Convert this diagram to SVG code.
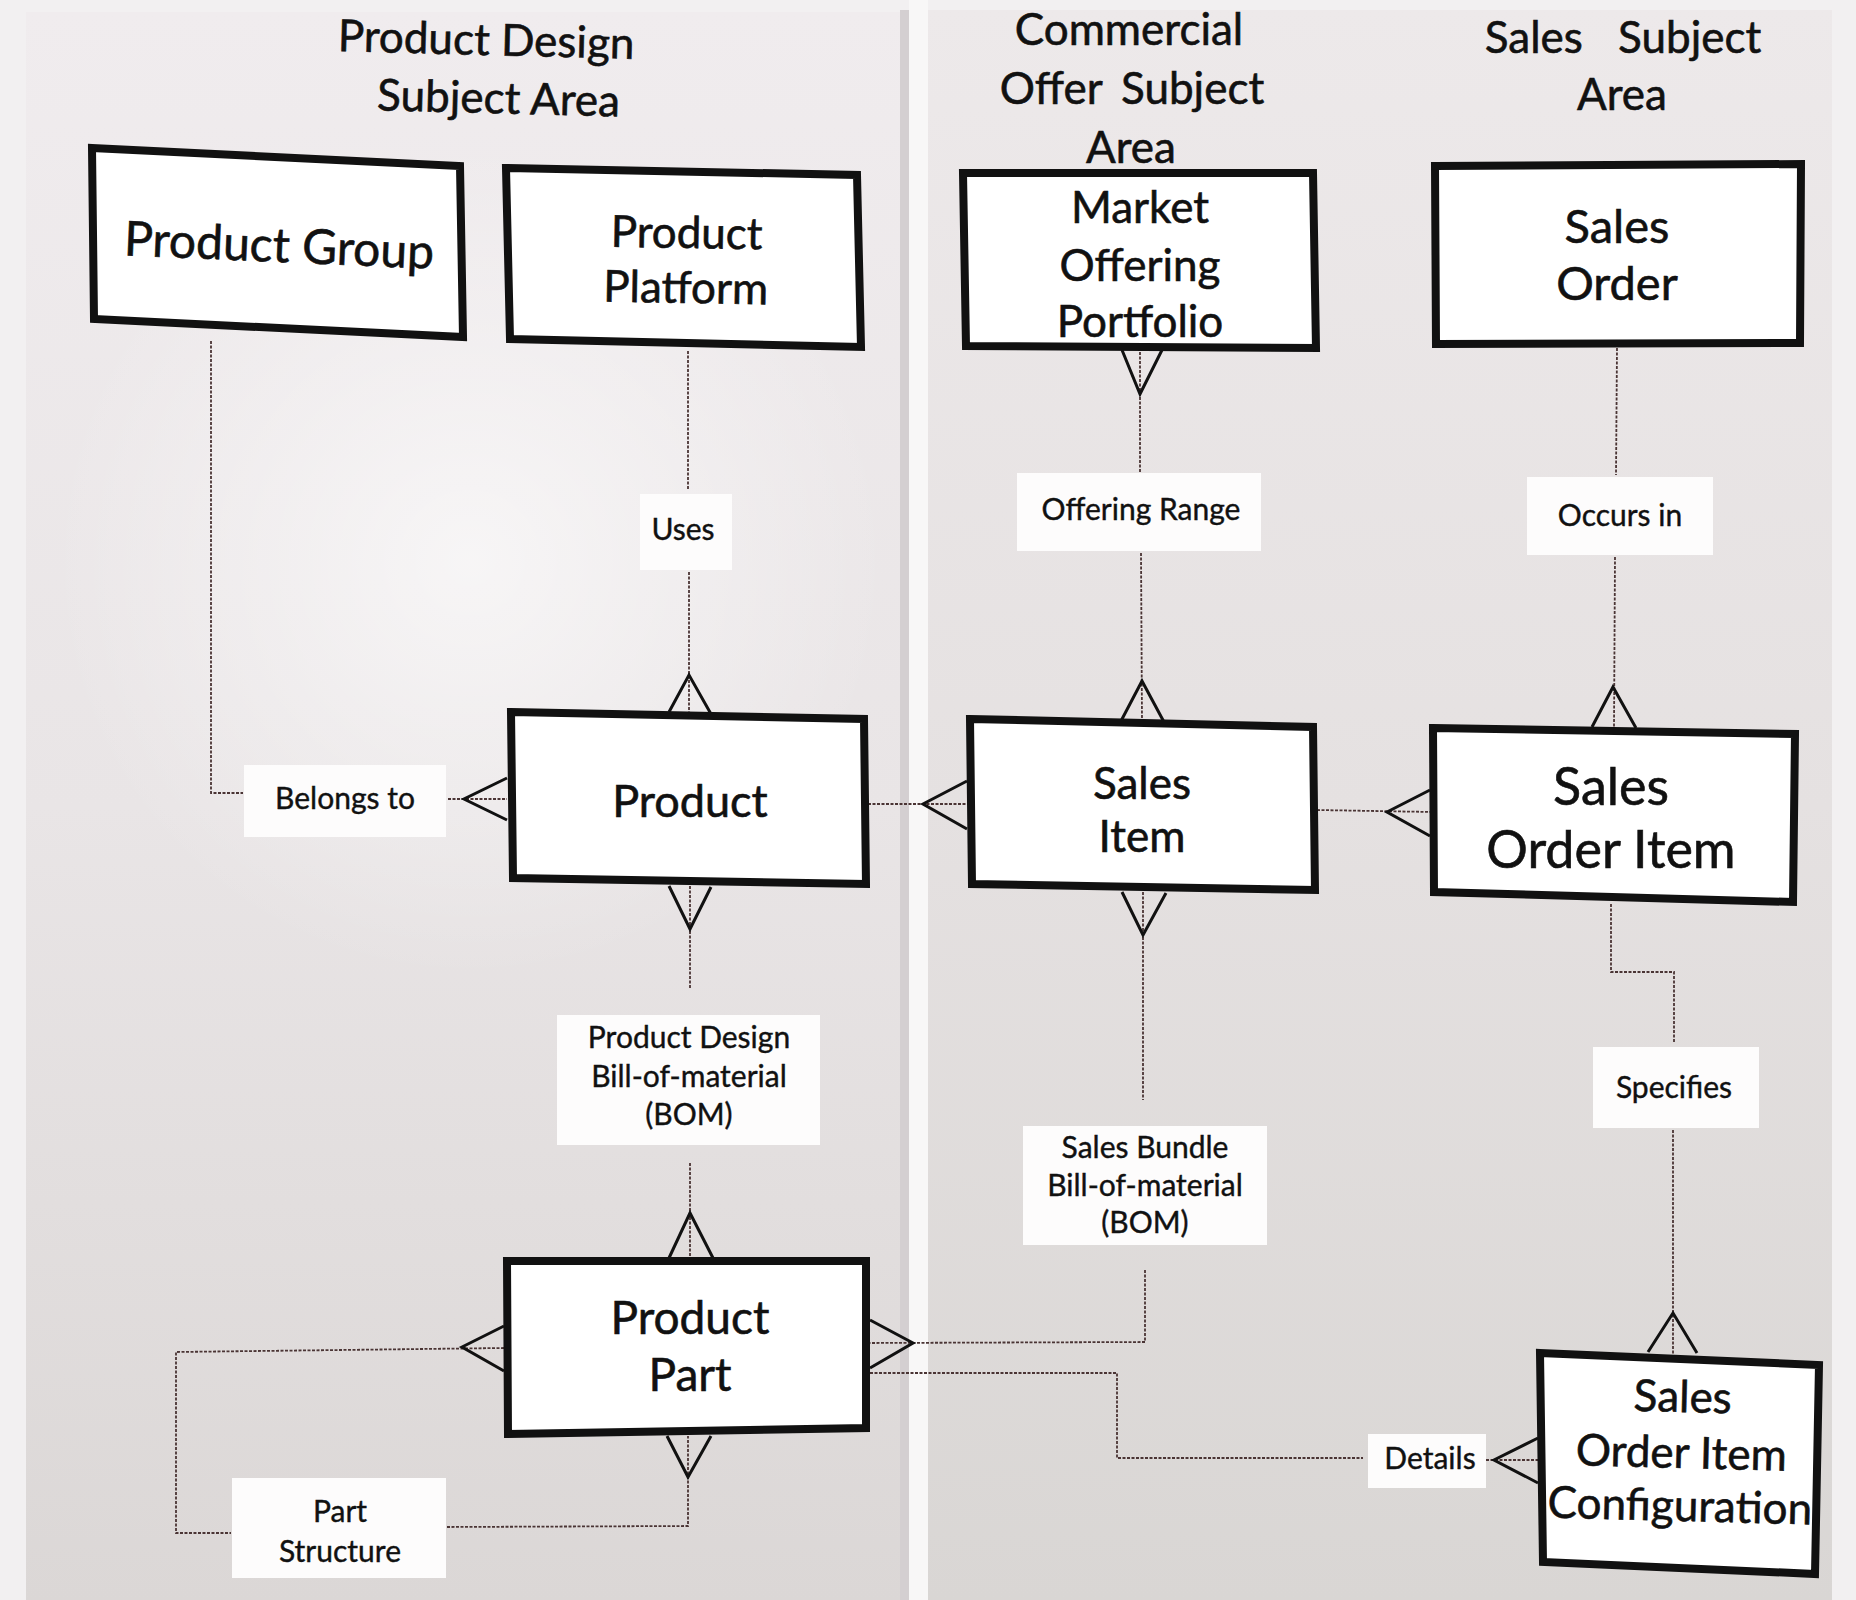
<svg xmlns="http://www.w3.org/2000/svg" width="1856" height="1600" viewBox="0 0 1856 1600">
<defs>
<linearGradient id="pgL" x1="0" y1="0" x2="0" y2="1">
<stop offset="0" stop-color="#f0ecee"/><stop offset="0.5" stop-color="#e9e5e6"/><stop offset="1" stop-color="#dbd7d6"/>
</linearGradient>
<linearGradient id="pgR" x1="0" y1="0" x2="0" y2="1">
<stop offset="0" stop-color="#ede9ea"/><stop offset="0.5" stop-color="#e5e1e1"/><stop offset="1" stop-color="#d9d6d4"/>
</linearGradient>
<radialGradient id="glow" cx="0.5" cy="0.5" r="0.5">
<stop offset="0" stop-color="#ffffff" stop-opacity="0.6"/><stop offset="1" stop-color="#ffffff" stop-opacity="0"/>
</radialGradient>
<style>
.box{fill:#ffffff;stroke:#111111;stroke-width:8;stroke-linejoin:miter}
.nt{font-family:Lato,"Open Sans",sans-serif;fill:#111111;stroke:#111111;stroke-width:0.6;text-anchor:middle}
.ttl{font-family:Lato,"Open Sans",sans-serif;font-size:44px;fill:#111111;stroke:#111111;stroke-width:0.6;text-anchor:middle}
.lbl{font-family:Lato,"Open Sans",sans-serif;font-size:30px;fill:#111111;stroke:#111111;stroke-width:0.4;text-anchor:middle}
.lbg{fill:#fdfcfc}
.dot{fill:none;stroke:#4a3434;stroke-width:1.8;stroke-dasharray:3 1.5}
.cf{fill:none;stroke:#111111;stroke-width:3;stroke-linejoin:miter}
</style>
</defs>
<g id="background">
<rect x="0" y="0" width="1856" height="1600" fill="#f2f0f1"/>
<rect x="26" y="12" width="874" height="1588" fill="url(#pgL)"/>
<rect x="928" y="10" width="904" height="1590" fill="url(#pgR)"/>
<ellipse cx="470" cy="560" rx="420" ry="420" fill="url(#glow)"/>
<rect x="900" y="10" width="9" height="1590" fill="#d4cfd1"/>
<rect x="909" y="0" width="19" height="1600" fill="#f8f7f7"/>
</g>
<g id="titles">
<text class="ttl" transform="rotate(1.5 486 45)"><tspan x="486" y="55">Product Design</tspan><tspan x="500" y="113">Subject Area</tspan></text>
<text class="ttl"><tspan x="1129" y="45">Commercial</tspan><tspan x="1132" y="104" word-spacing="8">Offer Subject</tspan><tspan x="1131" y="163">Area</tspan></text>
<text class="ttl"><tspan x="1623" y="53" word-spacing="24">Sales Subject</tspan><tspan x="1622" y="110">Area</tspan></text>
</g>
<g id="connectors">
<path class="dot" d="M211,341 L211,793 L243,793 M448,799 L507,799"/>
<path class="cf" d="M507,778 L464,799 L507,820"/>
<path class="dot" d="M688,351 L688,490 M689,572 L689,712"/>
<path class="cf" d="M669,712 L689,675 L711,714"/>
<path class="dot" d="M1140,352 L1140,472 M1141,553 L1142,721"/>
<path class="cf" d="M1122,350 L1140,394 L1162,350"/>
<path class="cf" d="M1121,721 L1142,681 L1164,722"/>
<path class="dot" d="M1617,348 L1616,475 M1615,557 L1614,727"/>
<path class="cf" d="M1592,727 L1613,687 L1636,728"/>
<path class="dot" d="M868,804 L968,804"/>
<path class="cf" d="M967,781 L923,804 L967,829"/>
<path class="dot" d="M1317,810 L1432,812"/>
<path class="cf" d="M1430,790 L1387,812 L1430,836"/>
<path class="dot" d="M690,886 L690,988 M690,1163 L690,1258"/>
<path class="cf" d="M669,886 L690,929 L711,887"/>
<path class="cf" d="M669,1258 L690,1213 L713,1258"/>
<path class="dot" d="M1143,892 L1143,1100 M1145,1270 L1145,1342 L870,1343"/>
<path class="cf" d="M1122,892 L1143,935 L1166,893"/>
<path class="cf" d="M870,1320 L913,1343 L870,1368"/>
<path class="dot" d="M870,1373 L1117,1373 L1117,1458 L1363,1458 M1486,1460 L1539,1460"/>
<path class="cf" d="M1538,1438 L1494,1460 L1538,1483"/>
<path class="dot" d="M1611,904 L1611,972 L1674,972 L1674,1043 M1673,1130 L1673,1354"/>
<path class="cf" d="M1648,1352 L1673,1313 L1697,1353"/>
<path class="dot" d="M504,1348 L176,1352 L176,1533 L231,1533 M447,1527 L688,1526 L688,1436"/>
<path class="cf" d="M504,1326 L462,1347 L504,1371"/>
<path class="cf" d="M667,1436 L688,1477 L711,1436"/>
</g>
<g id="labels">
<g id="lbl-belongs"><rect class="lbg" x="244" y="765" width="202" height="72"/><text class="lbl" x="345" y="809" font-size="32">Belongs to</text></g>
<g id="lbl-uses"><rect class="lbg" x="640" y="494" width="92" height="76"/><text class="lbl" x="683" y="540">Uses</text></g>
<g id="lbl-offering"><rect class="lbg" x="1017" y="473" width="244" height="78"/><text class="lbl" x="1141" y="520">Offering Range</text></g>
<g id="lbl-occurs"><rect class="lbg" x="1527" y="477" width="186" height="78"/><text class="lbl" x="1620" y="526" font-size="32">Occurs in</text></g>
<g id="lbl-pdbom"><rect class="lbg" x="557" y="1015" width="263" height="130"/><text class="lbl"><tspan x="689" y="1048">Product Design</tspan><tspan x="689" y="1087">Bill-of-material</tspan><tspan x="689" y="1125">(BOM)</tspan></text></g>
<g id="lbl-sbbom"><rect class="lbg" x="1023" y="1126" width="244" height="119"/><text class="lbl"><tspan x="1145" y="1158">Sales Bundle</tspan><tspan x="1145" y="1196">Bill-of-material</tspan><tspan x="1145" y="1233">(BOM)</tspan></text></g>
<g id="lbl-specifies"><rect class="lbg" x="1593" y="1047" width="166" height="81"/><text class="lbl" x="1674" y="1098">Specifies</text></g>
<g id="lbl-details"><rect class="lbg" x="1368" y="1434" width="118" height="54"/><text class="lbl" x="1430" y="1469">Details</text></g>
<g id="lbl-partstructure"><rect class="lbg" x="232" y="1478" width="214" height="100"/><text class="lbl" font-size="33"><tspan x="340" y="1522">Part</tspan><tspan x="340" y="1562">Structure</tspan></text></g>
</g>
<g id="product-group">
<polygon class="box" points="92,148 460,166 463,337 94,319"/>
<text class="nt" font-size="48" transform="rotate(2.5 279 250)" x="279" y="262">Product Group</text>
</g>
<g id="product-platform">
<polygon class="box" points="506,168 857,175 861,347 510,339"/>
<text class="nt" font-size="44" transform="rotate(1 686 270)"><tspan x="686" y="248">Product</tspan><tspan x="686" y="303">Platform</tspan></text>
</g>
<g id="market-offering-portfolio">
<polygon class="box" points="963,173 1313,173 1316,348 966,346"/>
<text class="nt" font-size="44"><tspan x="1140" y="223">Market</tspan><tspan x="1140" y="281">Offering</tspan><tspan x="1140" y="337">Portfolio</tspan></text>
</g>
<g id="sales-order">
<polygon class="box" points="1435,166 1801,164 1800,343 1436,344"/>
<text class="nt" font-size="47"><tspan x="1617" y="243">Sales</tspan><tspan x="1617" y="300">Order</tspan></text>
</g>
<g id="product">
<polygon class="box" points="511,712 864,719 866,884 513,878"/>
<text class="nt" font-size="45" x="690" y="817">Product</text>
</g>
<g id="sales-item">
<polygon class="box" points="970,719 1313,727 1315,890 972,884"/>
<text class="nt" font-size="44"><tspan x="1142" y="799">Sales</tspan><tspan x="1142" y="852">Item</tspan></text>
</g>
<g id="sales-order-item">
<polygon class="box" points="1433,728 1795,734 1793,902 1434,892"/>
<text class="nt" font-size="52"><tspan x="1611" y="805">Sales</tspan><tspan x="1611" y="868">Order Item</tspan></text>
</g>
<g id="product-part">
<polygon class="box" points="507,1261 866,1261 866,1428 508,1434"/>
<text class="nt" font-size="46"><tspan x="690" y="1334">Product</tspan><tspan x="690" y="1391">Part</tspan></text>
</g>
<g id="sales-order-item-configuration">
<polygon class="box" points="1540,1353 1819,1365 1815,1574 1543,1562"/>
<text class="nt" font-size="44" transform="rotate(1.5 1681 1465)"><tspan x="1681" y="1412">Sales</tspan><tspan x="1681" y="1468">Order Item</tspan><tspan x="1681" y="1521">Configuration</tspan></text>
</g>
</svg>
